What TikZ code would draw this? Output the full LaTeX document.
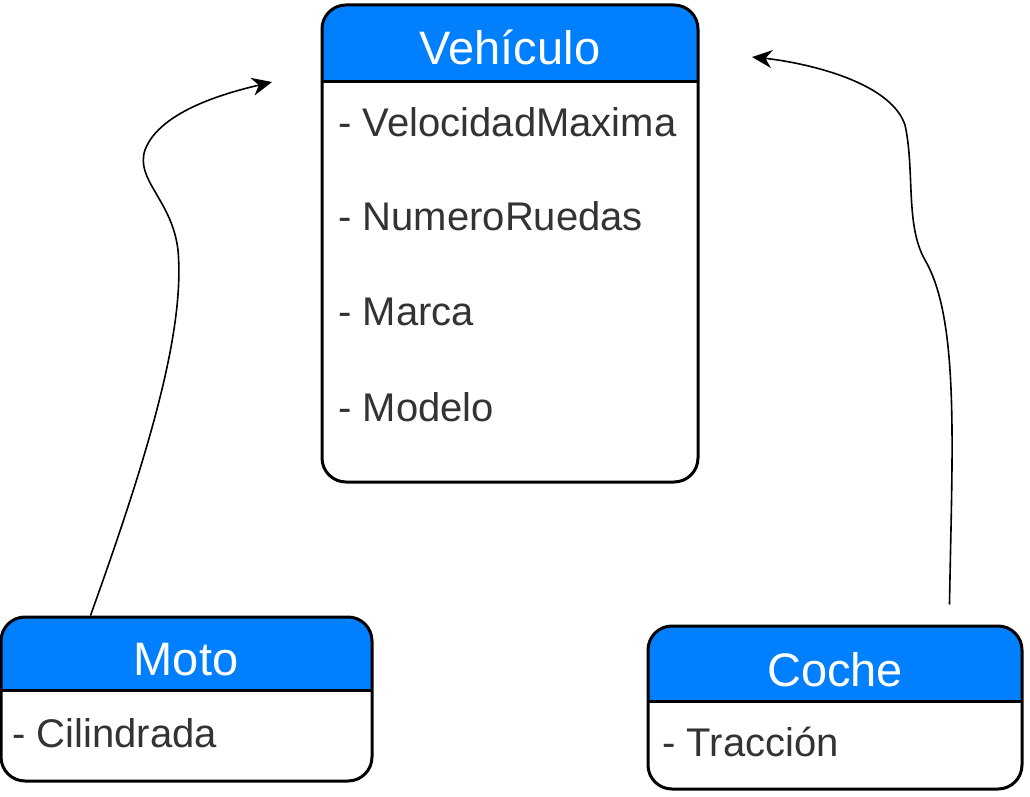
\documentclass[tikz,border=0pt]{standalone}
\usepackage{fontspec}
\setmainfont{Liberation Sans}
\usepackage{tikz}
\usetikzlibrary{arrows.meta}

\definecolor{headblue}{RGB}{0,128,255}
\definecolor{attrgray}{RGB}{51,51,51}

\begin{document}
\begin{tikzpicture}[
            x=0.5pt, y=-0.5pt, % one unit per pixel of the reference
            classbox/.style={draw=black, line width=1.5pt, rounded corners=12pt, fill=white,
                path picture={
                    \fill[headblue, sharp corners] (path picture bounding box.north west) rectangle ([yshift=-#1]path picture bounding box.north east);
                    \draw[line width=1.5pt, sharp corners] ([yshift=-#1]path picture bounding box.north west) -- ([yshift=-#1]path picture bounding box.north east);
                }}, % class box with blue header
            headtext/.style={text=white, inner sep=0pt, font=\fontsize{23.5}{28}\selectfont}, % class name
            attr/.style={text=attrgray, inner sep=0pt, anchor=west, font=\fontsize{20}{24}\selectfont}, % attribute line
            conn/.style={-{Stealth[length=10pt, width=9pt]}, line width=0.8pt} % inheritance arrow
            ]
        \useasboundingbox (0,0) rectangle (1030,797);

            % Parent class
            \node[classbox=38.5pt, minimum width=188pt, minimum height=238.5pt] (vehiculo) at (510,243.5) {};
            \node[headtext] (vehiculo-name) at (510,47) {Vehículo};
            \node[attr] (vel) at (338,122) {- VelocidadMaxima};
            \node[attr] (ruedas) at (338,216) {- NumeroRuedas};
            \node[attr] (marca) at (338,312) {- Marca};
            \node[attr] (modelo) at (338,407) {- Modelo};

            % Child classes
            \node[classbox=36.5pt, minimum width=185.5pt, minimum height=82pt] (moto) at (186.5,699) {};
            \node[headtext] (moto-name) at (186,660) {Moto};
            \node[attr] (cil) at (12,733) {- Cilindrada};

            \node[classbox=37.5pt, minimum width=187pt, minimum height=81.5pt] (coche) at (835,707.5) {};
            \node[headtext] (coche-name) at (835,670) {Coche};
            \node[attr] (trac) at (662,742) {- Tracción};

            % Arrow ends next to the parent header
            \coordinate (tip-left) at (272,82);
            \coordinate (tip-right) at (752,57);

            % Inheritance arrows
            \draw[conn] ([xshift=45.5pt]moto.north west) .. controls (150,450) and (185,330) .. (178,250)
                .. controls (172,200) and (135,180) .. (145,150)
                .. controls (160,110) and (230,92) .. (tip-left);
            \draw[conn] ([xshift=-37pt, yshift=10pt]coche.north east) .. controls (952,450) and (960,320) .. (925,260)
                .. controls (905,225) and (915,170) .. (905,125)
                .. controls (890,80) and (800,62) .. (tip-right);

        \end{tikzpicture}
\end{document}
